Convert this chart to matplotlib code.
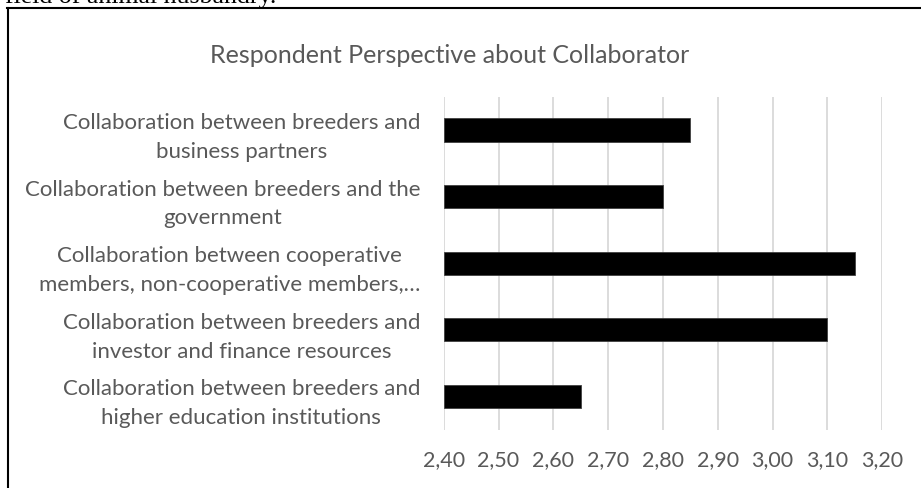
import matplotlib
matplotlib.use("Agg")
import matplotlib.pyplot as plt
from matplotlib.lines import Line2D

categories = [
    "Collaboration between breeders and\nbusiness partners",
    "Collaboration between breeders and the\ngovernment",
    "Collaboration between cooperative\nmembers, non-cooperative members,…",
    "Collaboration between breeders and\ninvestor and finance resources",
    "Collaboration between breeders and\nhigher education institutions",
]
scores = [2.85, 2.80, 3.15, 3.10, 2.65]
tick_values = [2.40, 2.50, 2.60, 2.70, 2.80, 2.90, 3.00, 3.10, 3.20]
tick_labels = ["2,40", "2,50", "2,60", "2,70", "2,80", "2,90", "3,00", "3,10", "3,20"]
title = "Respondent Perspective about Collaborator"

W, H = 921, 489
gris = "#595959"

fig = plt.figure(figsize=(W / 100, H / 100), dpi=100)
ax = fig.add_axes([443.7 / W, 1 - 430.7 / H, (882.3 - 443.7) / W, 333 / H])

pos = list(range(len(categories)))
ax.barh(pos, [s - tick_values[0] for s in scores], left=tick_values[0], height=0.35,
        color="black", edgecolor="#404040", linewidth=0.6, zorder=3)

ax.set_xlim(tick_values[0], tick_values[-1])
ax.set_ylim(len(categories) - 0.5, -0.5)
ax.set_xticks(tick_values)
ax.set_xticklabels(tick_labels, fontsize=15.5, color=gris, family="Lato")
ax.set_yticks(pos)
ax.set_yticklabels(categories, fontsize=16, color=gris, family="Lato", linespacing=1.55)
for t in ax.get_yticklabels():
    t.set_multialignment("center")
ax.tick_params(axis="both", length=0)
ax.tick_params(axis="x", pad=14)
ax.tick_params(axis="y", pad=17)
ax.grid(axis="x", color="#d9d9d9", linewidth=1.3, zorder=0)
ax.set_axisbelow(True)
for s in ax.spines.values():
    s.set_visible(False)

fig.text(450 / W, 1 - 63 / H, title, ha="center", va="baseline",
         fontsize=18, color=gris, family="Lato")

# cadre du graphique
fig.add_artist(Line2D([7.5 / W, 7.5 / W], [0, 1 - 9 / H], color="black", linewidth=1.5))
fig.add_artist(Line2D([7 / W, 1], [1 - 9 / H, 1 - 9 / H], color="black", linewidth=1.5))
# texte du document, coupe en haut comme dans l'original
fig.text(5 / W, 1 - 3.3 / H, "field of animal husbandry.", ha="left", va="baseline",
         fontsize=18.6, color="black", family="Liberation Serif")

fig.savefig("out.png", dpi=100)
